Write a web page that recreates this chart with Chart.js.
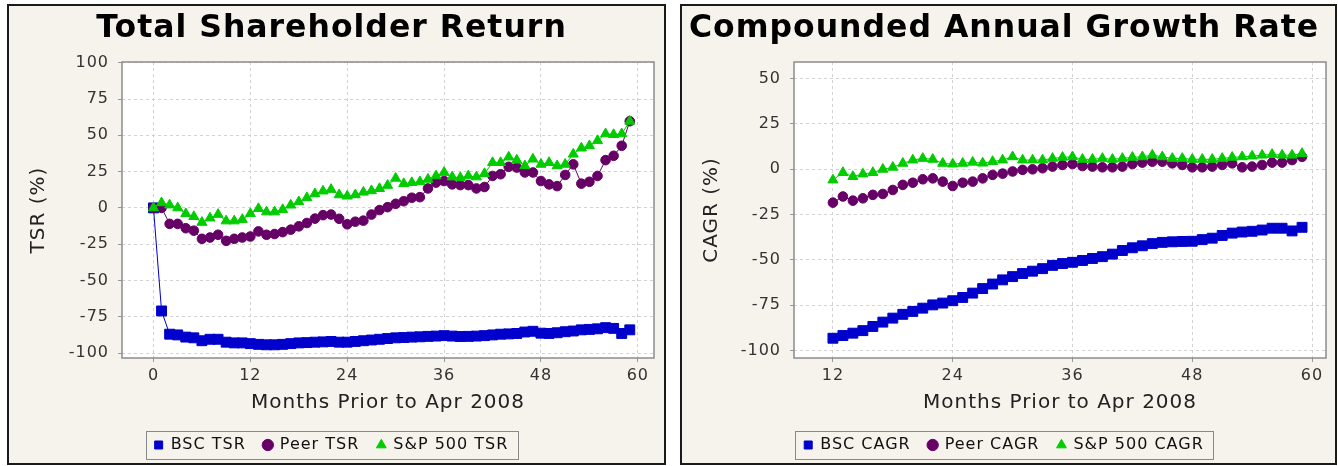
<!DOCTYPE html>
<html><head><meta charset="utf-8">
<script src="https://cdn.jsdelivr.net/npm/chart.js@4.4.1/dist/chart.umd.min.js"></script>
<style>
html,body{margin:0;padding:0;background:#fff;width:1338px;height:466px;overflow:hidden;}
.panel{position:absolute;top:4px;height:457px;border:2px solid #1a1a1a;background:#f6f3ec;}
#p1{left:7px;width:655px;}
#p2{left:680px;width:653px;}
canvas{display:block;}
</style></head><body>
<div class="panel" id="p1"><canvas id="c1" width="655" height="457"></canvas></div>
<div class="panel" id="p2"><canvas id="c2" width="653" height="457"></canvas></div>
<script>
// ---------- data ----------
const tsrMonths = [0,1,2,3,4,5,6,7,8,9,10,11,12,13,14,15,16,17,18,19,20,21,22,23,24,25,26,27,28,29,30,31,32,33,34,35,36,37,38,39,40,41,42,43,44,45,46,47,48,49,50,51,52,53,54,55,56,57,58,59];
const bscTsr = [0,-71,-87,-87.5,-89,-89.5,-91.5,-90.5,-90.5,-92.5,
  -93,-93,-93.5,-94,-94.3,-94.3,-94,-93.5,-93,-92.8,
  -92.5,-92.3,-92,-92.5,-92.5,-92,-91.5,-91,-90.5,-90,
  -89.5,-89.3,-89,-88.8,-88.5,-88.3,-88,-88.3,-88.6,-88.5,
  -88.3,-88,-87.5,-87,-86.8,-86.5,-85.5,-85,-86.3,-86.5,
  -86,-85.3,-84.8,-84,-83.7,-83.3,-82.5,-83,-86.5,-84];
const peerTsr = [0,0,-11,-11,-14,-15.7,-21.3,-20.4,-18.5,-22.7,
  -21.3,-20.4,-19.7,-16.2,-18.5,-18,-16.7,-15,-12.7,-10.4,
  -7.4,-5,-4.6,-7.5,-11.3,-9.5,-8.8,-4.6,-1.5,0.5,
  2.8,4.6,7,7.4,13.4,17.4,18.5,16.2,15.7,15.7,
  13.4,14.4,22,23.2,28.3,27.8,24.4,24.4,18.5,16.2,
  15,22.7,30,16.7,18,22,32.9,35.9,42.8,59.7];
const spTsr = [0,3.5,2,0,-4,-6,-10,-7,-4.5,-9,
  -9,-8,-4,-0.5,-2.8,-2.8,-1.2,1.9,4.2,7,
  9.7,11.6,12.7,9,8.1,9,10.8,11.8,13.3,15.5,
  20.4,16.7,17.4,18,19.7,22,24.4,21.3,20.8,22,
  21.3,23.6,31.2,31.2,35,32.9,29,33.6,30,31.2,
  29,30,37,41.2,42.8,46.3,51,50.5,51,59.7];

const cagrMonths = [12,13,14,15,16,17,18,19,20,21,22,23,24,25,26,27,28,29,30,31,32,33,34,35,36,37,38,39,40,41,42,43,44,45,46,47,48,49,50,51,52,53,54,55,56,57,58,59];
const bscCagr = [-93.2,-91.7,-90.4,-89,-86.7,-84.3,-82.1,-80,-78.4,-76.6,
  -74.8,-73.8,-72.5,-70.7,-68.3,-65.8,-63.3,-61,-59.2,-57.5,
  -56.2,-54.8,-53,-52,-51.3,-50.3,-49.2,-48.2,-46.8,-44.8,
  -43.3,-42.2,-41,-40.3,-40,-39.8,-39.7,-38.8,-38,-36.5,
  -35.2,-34.6,-34.2,-33.5,-32.5,-32.5,-34,-32];
const peerCagr = [-18.4,-15,-17.3,-16,-14.1,-13.6,-11.4,-8.6,-7.4,-5.5,
  -5,-6.8,-9.2,-7.4,-6.8,-5,-3.1,-2.4,-1.2,-0.3,
  0,0.6,1.5,2.4,2.9,1.8,1.5,1.1,1.1,1.5,
  2.9,3.7,4.2,4.2,3.3,2.4,1.1,1.1,1.5,2.4,
  3.3,1.1,1.5,2.4,3.7,3.7,5.1,6.9];
const spCagr = [-5.9,-1.8,-4,-2.6,-1.8,0,1.1,3.3,5.1,6,
  5.5,3.3,2.9,3.3,3.9,3.4,4.3,5.1,6.9,5.1,
  5.1,5.1,6,6.6,6.9,5.5,5.5,6,5.5,6,
  6.6,6.9,7.8,6.9,6,6,5.5,5.5,5.5,6,
  6.6,6.9,7.3,7.8,8.2,7.8,7.8,8.7];

const tsrXTicks = [0,12,24,36,48,60];
const tsrYTicks = [-100,-75,-50,-25,0,25,50,75,100];
const cagrXTicks = [12,24,36,48,60];
const cagrYTicks = [-100,-75,-50,-25,0,25,50];

// ---------- styling ----------
const BLUE = 'rgb(0,0,204)', PURPLE = 'rgb(102,0,102)', GREEN = 'rgb(0,204,0)';
Chart.defaults.font.family = "'DejaVu Sans', sans-serif";
Chart.defaults.color = '#333';
const SP = '1px';

const spacing = {
  id: 'spacing',
  beforeUpdate(c) { c.ctx.letterSpacing = SP; },
  beforeLayout(c) { c.ctx.letterSpacing = SP; },
  beforeDraw(c) { c.ctx.letterSpacing = SP; }
};
const plotArea = {
  id: 'plotArea',
  beforeDraw(c) {
    const {ctx, chartArea: a} = c;
    ctx.save(); ctx.fillStyle = '#fff';
    ctx.fillRect(a.left, a.top, a.right - a.left, a.bottom - a.top);
    ctx.restore();
  },
  beforeDatasetsDraw(c) {
    const {ctx, chartArea: a} = c;
    ctx.save(); ctx.strokeStyle = '#8c8c8c'; ctx.lineWidth = 1.5;
    ctx.strokeRect(Math.round(a.left), Math.round(a.top), Math.round(a.right - a.left), Math.round(a.bottom - a.top));
    ctx.restore();
  }
};
const legendBox = {
  id: 'legendBox',
  afterDraw(c) {
    const hb = c.legend && c.legend.legendHitBoxes;
    if (!hb || !hb.length) return;
    const l = Math.min(...hb.map(h => h.left)), r = Math.max(...hb.map(h => h.left + h.width));
    const t = Math.min(...hb.map(h => h.top)), b = Math.max(...hb.map(h => h.top + h.height));
    const ctx = c.ctx;
    ctx.save(); ctx.strokeStyle = '#888'; ctx.lineWidth = 1;
    ctx.strokeRect(Math.round(l - 9) + 0.5, Math.round(t - 6) + 0.5, Math.round(r - l + 18), Math.round(b - t + 12));
    ctx.restore();
  }
};

function ds(label, xs, ys, color, style, radius, order) {
  return {
    label, data: xs.map((x, i) => ({x: x, y: ys[i]})),
    borderColor: color, backgroundColor: color,
    pointStyle: style, pointRadius: radius, pointHoverRadius: radius,
    pointBorderWidth: 1, borderWidth: 1, tension: 0, order: order
  };
}

function makeChart(id, opt) {
  return new Chart(document.getElementById(id), {
    type: 'line',
    data: { datasets: opt.datasets },
    plugins: [spacing, plotArea, legendBox],
    options: {
      responsive: false, animation: false, events: [],
      layout: { padding: { left: 0, right: opt.rightPad, top: 0, bottom: 0 } },
      plugins: {
        tooltip: { enabled: false },
        title: { display: true, text: opt.title, color: '#000',
          font: { size: 31.5, weight: 'bold' }, padding: { top: 4, bottom: 14.2 } },
        legend: { position: 'bottom',
          labels: { usePointStyle: true, boxWidth: 8, boxHeight: 8, padding: 18,
            font: { size: 16 }, color: '#111',
            sort: (a, b) => a.datasetIndex - b.datasetIndex } }
      },
      scales: {
        x: { type: 'linear', min: opt.xMin, max: opt.xMax,
          afterBuildTicks: s => { s.ticks = opt.xTicks.map(v => ({value: v})); },
          afterFit: s => { s.height = 61; },
          ticks: { font: { size: 16 }, color: '#333', padding: 4, autoSkip: false, maxRotation: 0 },
          grid: { color: '#d2d2d2', tickColor: '#999', tickLength: 4, lineWidth: 1 },
          border: { display: false, dash: [3, 3] },
          title: { display: true, text: 'Months Prior to Apr 2008', color: '#222',
            font: { size: 20 }, padding: { top: 0, bottom: 4 } } },
        y: { type: 'linear', min: opt.yMin, max: opt.yMax,
          afterBuildTicks: s => { s.ticks = opt.yTicks.map(v => ({value: v})); },
          afterFit: s => { s.width = opt.yWidth; },
          ticks: { font: { size: 16 }, color: '#333', padding: 9, autoSkip: false },
          grid: { color: '#d2d2d2', tickColor: '#999', tickLength: 4, lineWidth: 1 },
          border: { display: false, dash: [3, 3] },
          title: { display: true, text: opt.yTitle, color: '#222',
            font: { size: 20 }, padding: { top: 18, bottom: 0 } } }
      }
    }
  });
}

makeChart('c1', {
  title: 'Total Shareholder Return', yTitle: 'TSR (%)',
  xMin: -3.9, xMax: 62, yMin: -103.4, yMax: 100.5,
  xTicks: tsrXTicks, yTicks: tsrYTicks, yWidth: 113, rightPad: 10,
  datasets: [
    ds('BSC TSR', tsrMonths, bscTsr, BLUE, 'rect', 7, 2),
    ds('Peer TSR', tsrMonths, peerTsr, PURPLE, 'circle', 4.8, 1),
    ds('S&P 500 TSR', tsrMonths, spTsr, GREEN, 'triangle', 5.8, 0)
  ]
});
makeChart('c2', {
  title: 'Compounded Annual Growth Rate', yTitle: 'CAGR (%)',
  xMin: 8.1, xMax: 61.4, yMin: -104.1, yMax: 59.2,
  xTicks: cagrXTicks, yTicks: cagrYTicks, yWidth: 112, rightPad: 9,
  datasets: [
    ds('BSC CAGR', cagrMonths, bscCagr, BLUE, 'rect', 7, 2),
    ds('Peer CAGR', cagrMonths, peerCagr, PURPLE, 'circle', 4.8, 1),
    ds('S&P 500 CAGR', cagrMonths, spCagr, GREEN, 'triangle', 5.8, 0)
  ]
});
</script>
</body></html>
